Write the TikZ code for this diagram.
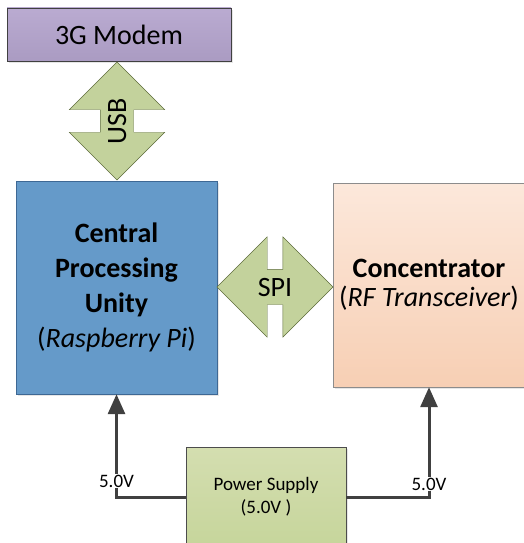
\documentclass[tikz,border=0pt]{standalone}
\usepackage{fontspec}
\setmainfont{Carlito}
\usetikzlibrary{shapes.arrows,arrows.meta,shadows}

\definecolor{modemtop}{RGB}{186,171,209}
\definecolor{modembot}{RGB}{170,155,194}
\definecolor{cpufill}{RGB}{101,154,201}
\definecolor{cpuline}{RGB}{62,104,148}
\definecolor{conctop}{RGB}{252,232,219}
\definecolor{concbot}{RGB}{247,207,180}
\definecolor{pstop}{RGB}{212,222,176}
\definecolor{psbot}{RGB}{198,213,155}
\definecolor{linkfill}{RGB}{195,210,156}
\definecolor{linkline}{RGB}{92,107,58}
\definecolor{wire}{RGB}{64,64,64}

\tikzset{
	blk/.style={draw, rectangle, inner sep=0pt, align=center,
		drop shadow={opacity=.2, shadow xshift=2pt, shadow yshift=-2pt}},
	link/.style={double arrow, draw=linkline, fill=linkfill, inner xsep=0pt,
		text height=18pt, text depth=0pt, font=\fontsize{28}{34}\selectfont},
	pwr/.style={draw=wire, line width=3pt, -{Triangle[length=20pt,width=17pt]}},
	volt/.style={fill=white, inner sep=1pt, font=\fontsize{19}{23}\selectfont}
}

\begin{document}
\begin{tikzpicture}[x=1pt, y=-1pt]
	\useasboundingbox (0,0) rectangle (523,543);

	\node [blk, draw=black!75, top color=modemtop, bottom color=modembot,
		minimum width=224pt, minimum height=53pt,
		font=\fontsize{28}{34}\selectfont] (modem) at (119,34.5) {3G Modem};

	\node [blk, draw=cpuline, fill=cpufill, minimum width=201pt, minimum height=213pt,
		font=\fontsize{28}{35}\selectfont\bfseries] (cpu) at (116.5,287.5)
		{Central\\Processing\\Unity\\{\mdseries(\textit{Raspberry Pi})}};

	\node [blk, draw=black!45, top color=conctop, bottom color=concbot,
		minimum width=192pt, minimum height=204pt,
		font=\fontsize{28}{29}\selectfont] (conc) at (429,285)
		{\textbf{Concentrator}\\(\textit{RF Transceiver})};

	\node [blk, draw=black!70, top color=pstop, bottom color=psbot,
		minimum width=160pt, minimum height=100pt,
		font=\fontsize{19}{23}\selectfont] (ps) at (266,497)
		{Power Supply\\(5.0V )};

	% bus links
	\node [link, rotate=90, inner ysep=7.5pt, double arrow head extend=31pt,
		minimum height=118pt, minimum width=95pt] (usb) at (117,121) {USB};
	\node [link, inner ysep=8.5pt, double arrow head extend=32.5pt,
		minimum height=116pt, minimum width=100pt] (spi) at (275,287) {SPI};

	% supply lines
	\foreach \side/\tgt/\p in {west/cpu/0.578, east/conc/0.559} {
		\draw [pwr] (ps.\side) -| node [volt, pos=\p] {5.0V} (\tgt.south);
	}
\end{tikzpicture}
\end{document}
